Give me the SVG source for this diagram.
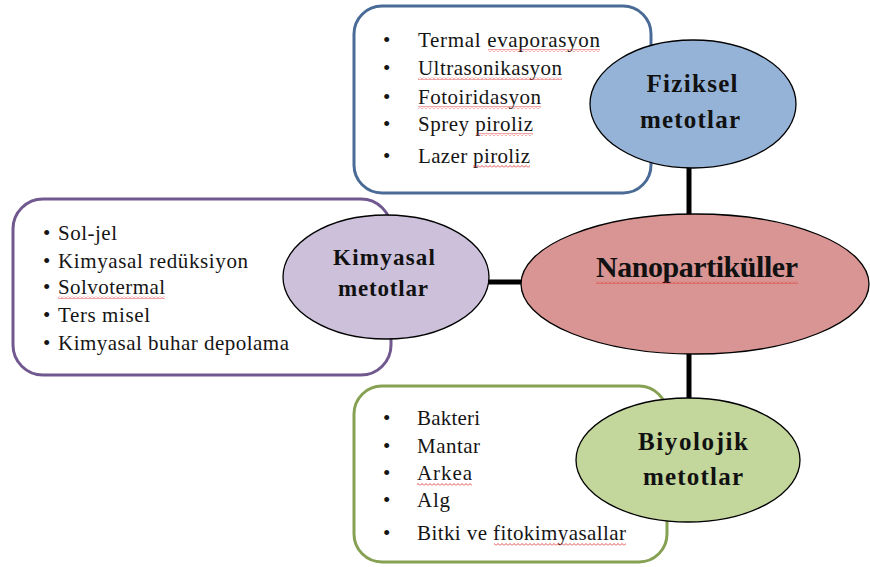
<svg xmlns="http://www.w3.org/2000/svg" width="870" height="567" viewBox="0 0 870 567">
<defs>
<pattern id="wave" width="4" height="3" patternUnits="userSpaceOnUse">
<path d="M0 2.5 L2 0.5 L4 2.5" fill="none" stroke="#e03a3a" stroke-width="0.9"/>
</pattern>
</defs>
<style>
.box{fill:#fff;stroke-width:3}
.ell{stroke:#000;stroke-width:1.3}
.li{font-family:'Liberation Serif','Times New Roman','DejaVu Serif',serif;font-size:21px;fill:#151515}
.hd{font-family:'Liberation Serif','Times New Roman','DejaVu Serif',serif;font-weight:bold;font-size:25px;fill:#111;text-anchor:middle}
.con{stroke:#000;stroke-width:5;fill:none}
.sq{fill:url(#wave)}
</style>
<rect width="870" height="567" fill="#fff"/>
<g id="connectors">
<line class="con" x1="689" y1="166" x2="689" y2="216"/>
<line class="con" x1="488" y1="282" x2="523" y2="282"/>
<line class="con" x1="689" y1="353" x2="689" y2="400"/>
</g>
<g id="fiziksel-list">
<rect class="box" x="354" y="6" width="297" height="187" rx="28" stroke="#4a6b96"/>
<g class="li">
<text x="383" y="47">•</text><text x="418" y="47" textLength="182" lengthAdjust="spacing">Termal evaporasyon</text>
<text x="383" y="75">•</text><text x="418" y="75" textLength="144" lengthAdjust="spacing">Ultrasonikasyon</text>
<text x="383" y="104">•</text><text x="418" y="104" textLength="123" lengthAdjust="spacing">Fotoiridasyon</text>
<text x="383" y="131">•</text><text x="418" y="131" textLength="115" lengthAdjust="spacing">Sprey piroliz</text>
<text x="383" y="163">•</text><text x="418" y="163" textLength="112" lengthAdjust="spacing">Lazer piroliz</text>
</g>
<rect class="sq" x="488" y="49" width="112" height="3"/>
<rect class="sq" x="418" y="77" width="144" height="3"/>
<rect class="sq" x="418" y="106" width="123" height="3"/>
<rect class="sq" x="476" y="133" width="57" height="3"/>
<rect class="sq" x="473" y="165" width="57" height="3"/>
</g>
<g id="fiziksel">
<ellipse class="ell" cx="693" cy="104" rx="103" ry="64" fill="#95b3d7"/>
<text class="hd" x="692" y="92" textLength="91" lengthAdjust="spacing">Fiziksel</text>
<text class="hd" x="690" y="128" textLength="100" lengthAdjust="spacing">metotlar</text>
</g>
<g id="kimyasal-list">
<rect class="box" x="13" y="199" width="378" height="176" rx="30" stroke="#71598f"/>
<g class="li">
<text x="43" y="240">•</text><text x="58" y="240" textLength="59" lengthAdjust="spacing">Sol-jel</text>
<text x="43" y="268">•</text><text x="58" y="268" textLength="190" lengthAdjust="spacing">Kimyasal redüksiyon</text>
<text x="43" y="294">•</text><text x="58" y="294" textLength="107" lengthAdjust="spacing">Solvotermal</text>
<text x="43" y="322">•</text><text x="58" y="322" textLength="92" lengthAdjust="spacing">Ters misel</text>
<text x="43" y="350">•</text><text x="58" y="350" textLength="231" lengthAdjust="spacing">Kimyasal buhar depolama</text>
</g>
<rect class="sq" x="58" y="296" width="107" height="3"/>
</g>
<g id="kimyasal">
<ellipse class="ell" cx="386" cy="277" rx="103" ry="62" fill="#ccc0da"/>
<text class="hd" x="384" y="265" textLength="102" lengthAdjust="spacing" style="font-size:23px">Kimyasal</text>
<text class="hd" x="383" y="296" textLength="90" lengthAdjust="spacing" style="font-size:23px">metotlar</text>
</g>
<g id="biyolojik-list">
<rect class="box" x="354" y="386" width="313" height="176" rx="28" stroke="#86a153"/>
<g class="li">
<text x="383" y="425">•</text><text x="417" y="425" textLength="63" lengthAdjust="spacing">Bakteri</text>
<text x="383" y="453">•</text><text x="417" y="453" textLength="63" lengthAdjust="spacing">Mantar</text>
<text x="383" y="480">•</text><text x="417" y="480" textLength="55" lengthAdjust="spacing">Arkea</text>
<text x="383" y="507">•</text><text x="417" y="507" textLength="33" lengthAdjust="spacing">Alg</text>
<text x="383" y="540">•</text><text x="417" y="540" textLength="209" lengthAdjust="spacing">Bitki ve fitokimyasallar</text>
</g>
<rect class="sq" x="417" y="483" width="55" height="3"/>
<rect class="sq" x="494" y="543" width="132" height="3"/>
</g>
<g id="biyolojik">
<ellipse class="ell" cx="688" cy="460" rx="112" ry="62" fill="#c3d69b"/>
<text class="hd" x="693" y="450" textLength="110" lengthAdjust="spacing">Biyolojik</text>
<text class="hd" x="693" y="485" textLength="100" lengthAdjust="spacing">metotlar</text>
</g>
<g id="nanopartikuller">
<ellipse class="ell" cx="695" cy="284" rx="174" ry="70" fill="#d99594"/>
<text class="hd" x="697" y="277" textLength="202" lengthAdjust="spacing" style="font-size:30px">Nanopartiküller</text>
<rect class="sq" x="596" y="281" width="202" height="3"/>
</g>
</svg>
